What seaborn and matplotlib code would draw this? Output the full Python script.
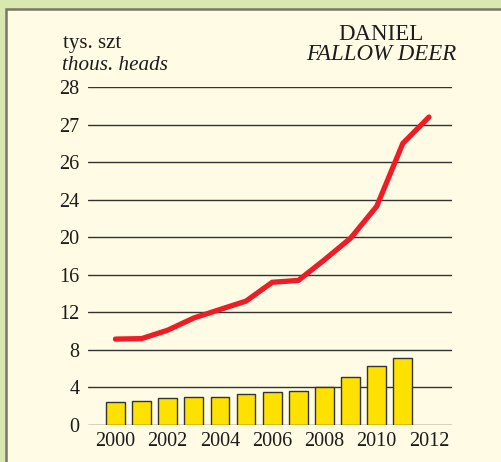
import numpy as np
import pandas as pd
import matplotlib
matplotlib.use("Agg")
import matplotlib.pyplot as plt
from matplotlib.patches import Rectangle
from matplotlib.ticker import FixedLocator, FixedFormatter
import seaborn as sns

# Y tick labels as printed on the axis (evenly spaced)
tick_labels = [0, 4, 8, 12, 16, 20, 24, 26, 27, 28]
x_tick_years = [2000, 2002, 2004, 2006, 2008, 2010, 2012]

# Bars: yearly values 2000-2011
bar_years = list(range(2000, 2012))
bar_values = [2.5, 2.6, 2.85, 3.0, 3.0, 3.3, 3.5, 3.6, 4.1, 5.1, 6.3, 7.1]

# Line: yearly values 2000-2012
line_years = list(range(2000, 2013))
line_values = [9.15, 9.2, 10.1, 11.4, 12.3, 13.2, 15.2, 15.4, 17.6, 19.9, 23.3, 26.5, 27.2]

unit_pl = "tys. szt"
unit_en = "thous. heads"
title_pl = "DANIEL"
title_en = "FALLOW DEER"

GREEN = "#d9e7b1"
CREAM = "#fffbe4"
BORDER = "#77776a"
YELLOW = "#ffe100"
RED = "#ee1c25"
INK = "#1c1c1c"

sns.set_theme(style="white")
plt.rcParams["font.family"] = ["Liberation Serif", "DejaVu Serif"]

W, H = 501, 462
fig = plt.figure(figsize=(W / 100, H / 100), dpi=100)
fig.patch.set_facecolor(GREEN)
fig.add_artist(Rectangle((6 / W, -0.1), 1.2, (H - 9) / H + 0.1,
                         transform=fig.transFigure, facecolor=CREAM,
                         edgecolor=BORDER, linewidth=1.8, zorder=0))

ax = fig.add_axes([88 / W, (H - 425) / H, (452 - 88) / W, (425 - 87) / H])
ax.set_facecolor("none")

bars = pd.DataFrame({"year": bar_years, "value": bar_values})
line = pd.DataFrame({"year": line_years, "value": line_values})

sns.barplot(data=bars, x="year", y="value", native_scale=True, width=0.72,
            color=YELLOW, saturation=1, edgecolor="#333333", linewidth=1.0,
            ax=ax, zorder=3)
sns.lineplot(data=line, x="year", y="value", color=RED, linewidth=3.8,
             ax=ax, zorder=4, solid_joinstyle="miter")

# Evenly spaced tick positions carrying the printed labels
positions = np.arange(len(tick_labels), dtype=float)
lab = np.array(tick_labels, dtype=float)


def fwd(v):
    return np.interp(v, lab, positions)


def inv(p):
    return np.interp(p, positions, lab)


ax.set_yscale("function", functions=(fwd, inv))
ax.set_ylim(0, 28)
ax.set_xlim(1998.95, 2012.88)
ax.yaxis.set_major_locator(FixedLocator(tick_labels))
ax.yaxis.set_major_formatter(FixedFormatter([str(t) for t in tick_labels]))
ax.yaxis.set_minor_locator(FixedLocator([]))
ax.set_xticks(x_tick_years)
ax.set_xticklabels([str(y) for y in x_tick_years])

ax.grid(axis="y", color="#333333", linewidth=1.0, zorder=1)
ax.grid(axis="x", visible=False)
ax.set_axisbelow(True)
for s in ax.spines.values():
    s.set_visible(False)
ax.tick_params(axis="both", length=0, labelsize=14.5, colors=INK)
ax.tick_params(axis="y", pad=6)
ax.tick_params(axis="x", pad=5)
ax.set_xlabel("")
ax.set_ylabel("")

fig.text(63 / W, (H - 48) / H, unit_pl, fontsize=15, color=INK,
         ha="left", va="baseline")
fig.text(62 / W, (H - 70) / H, unit_en, fontsize=15.2, color=INK,
         style="italic", ha="left", va="baseline")
fig.text(381 / W, (H - 40) / H, title_pl, fontsize=16.5, color=INK,
         ha="center", va="baseline")
fig.text(381 / W, (H - 60) / H, title_en, fontsize=16.5, color=INK,
         style="italic", ha="center", va="baseline")

fig.savefig("out.png", dpi=100, facecolor=fig.get_facecolor())
